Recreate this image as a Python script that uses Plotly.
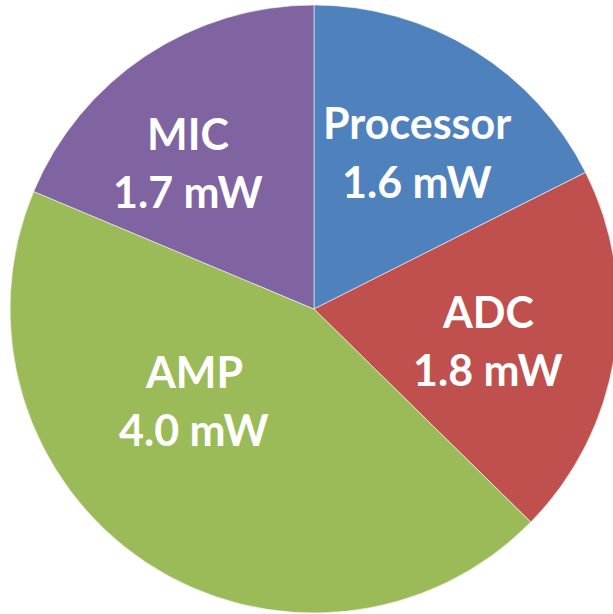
import plotly.graph_objects as go

labels = ["Processor", "ADC", "AMP", "MIC"]
values = [1.6, 1.8, 4.0, 1.7]
units = "mW"
colors = ["#4F81BD", "#C0504D", "#9BBB59", "#8064A2"]

# label placement (pixel centres within the page) - layout only
label_px = [(417, 152), (488, 340), (194, 400), (188, 162)]
LINE_GAP = 58

W, H = 620, 614
CX0, CX1, CY0, CY1 = 10, 618, 5, 613  # pie bounding box in px

fig = go.Figure(go.Pie(
    labels=labels,
    values=values,
    textinfo="none",
    sort=False,
    direction="clockwise",
    rotation=0,
    marker=dict(colors=colors, line=dict(color="rgba(255,255,255,0.55)", width=1)),
    hoverinfo="label+value",
    showlegend=False,
    domain=dict(x=[CX0 / W, CX1 / W], y=[1 - CY1 / H, 1 - CY0 / H]),
))

font = dict(family="Lato", size=43, color="white", weight="bold")
for lab, val, (px, py) in zip(labels, values, label_px):
    for txt, dy in ((lab, -LINE_GAP / 2), (f"{val:.1f} {units}", LINE_GAP / 2)):
        fig.add_annotation(
            x=px / W, y=1 - (py + dy) / H, xref="paper", yref="paper",
            text=txt, showarrow=False, xanchor="center", yanchor="middle",
            align="center", font=font,
        )

fig.update_layout(
    width=W, height=H,
    margin=dict(l=0, r=0, t=0, b=0),
    paper_bgcolor="white",
    plot_bgcolor="white",
)

fig.write_html(
    "out.html",
    config={"displayModeBar": False},
    post_script=(
        "document.body.style.margin='0';"
        "document.body.style.overflow='hidden';"
        "document.documentElement.style.overflow='hidden';"
    ),
)
